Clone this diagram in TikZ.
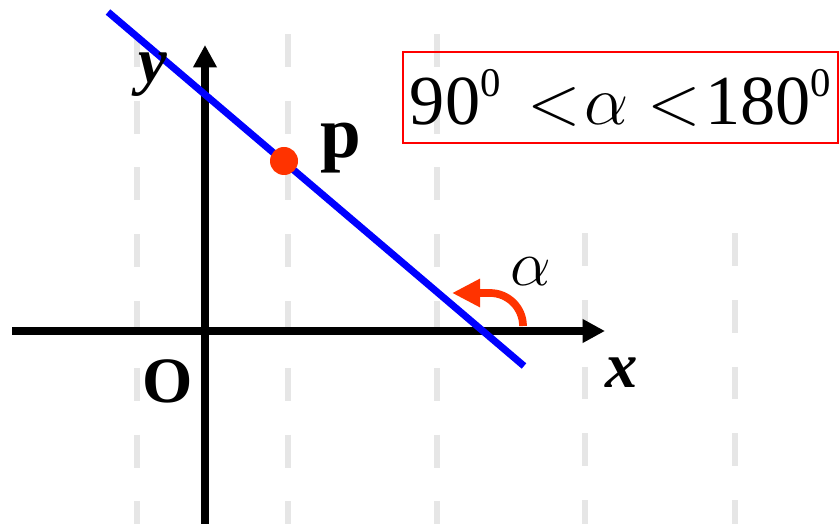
\RequirePackage{fix-cm}
\documentclass[tikz,border=0pt]{standalone}
\usepackage{fontspec}
\setmainfont{Liberation Serif}
\usepackage{xcolor}
\usetikzlibrary{arrows.meta}
\definecolor{GridGray}{HTML}{E6E6E6}
\definecolor{LineBlue}{HTML}{0000FF}
\definecolor{AngRed}{HTML}{FF3300}
\definecolor{BoxRed}{HTML}{FF0000}
\newcommand{\supzero}{\raisebox{0.4em}{\fontsize{29}{30}\selectfont 0}}
\begin{document}
\begin{tikzpicture}[
  x=0.025cm, y=-0.025cm,
  font=\fontsize{46}{50}\selectfont,
  gridline/.style={draw=GridGray, line width=4.5pt, dash pattern=on 23.4pt off 24.1pt},
  axis/.style={-{Triangle[length=16pt, width=16pt]}, line width=5pt, black},
  slope/.style={draw=LineBlue, line width=5pt},
  dot/.style={circle, fill=AngRed, minimum size=0.7cm, inner sep=0pt},
  angarr/.style={-{Triangle[length=20pt, width=19pt]}, draw=AngRed, line width=5.5pt},
  lbl/.style={inner sep=0pt},
  rangebox/.style={draw=BoxRed, line width=1.4pt, inner sep=0pt,
                minimum width=10.875cm, minimum height=2.275cm,
                font=\fontsize{50}{54}\selectfont},
]
\useasboundingbox (0,0) rectangle (840,524);
\foreach \gx in {137,288,437}
  \draw[gridline, dash phase=23.4pt] (\gx,0) -- (\gx,524);
\foreach \gx in {585,735}
  \draw[gridline] (\gx,233) -- (\gx,524);
\coordinate (xs) at (12,331);
\coordinate (xe) at (605,331);
\coordinate (ys) at (205,524);
\coordinate (ye) at (205,45);
\draw[axis] (xs) -- (xe);
\draw[axis] (ys) -- (ye);
\coordinate (l1) at (108,12);
\coordinate (l2) at (524,366);
\draw[slope] (l1) -- (l2);
\node[dot] (P) at (284,161) {};
\coordinate (a1) at (523,326);
\coordinate (a2) at (452,293);
\draw[angarr] (a1) arc[start angle=0, end angle=-90, radius=33] -- (a2);
\node[lbl] (ylab) at (153,75) {\bfseries\itshape y};
\node[lbl] (xlab) at (622,373) {\bfseries\itshape x};
\node[lbl] (olab) at (168,381) {\bfseries O};
\node[lbl, font=\fontsize{52}{56}\selectfont] (plab) at (341,148) {\bfseries p};
\node[lbl] (alab) at (531,272) {$\alpha$};
\node[rangebox] (rng) at (620.5,97.5)
  {90\supzero\hspace{19pt}$<$\hspace{3pt}$\alpha$\hspace{13pt}$<$\hspace{3pt}180\supzero};
\end{tikzpicture}
\end{document}
